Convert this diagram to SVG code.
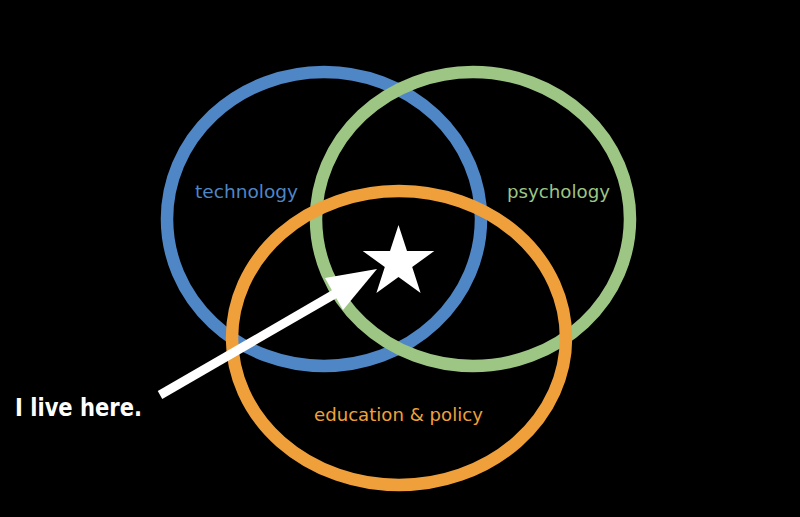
<svg xmlns="http://www.w3.org/2000/svg" width="800" height="517" viewBox="0 0 800 517">
<style>
.ring{fill:none;stroke-width:12.5}
.lbl{font-family:"DejaVu Sans","Noto Sans",sans-serif;font-size:18px}
</style>
<rect width="800" height="517" fill="#000"/>
<g id="technology">
<ellipse class="ring" cx="324" cy="219" rx="157" ry="147" stroke="#4F86C6"/>
<text class="lbl" x="195" y="198" fill="#4F86C6" textLength="103" lengthAdjust="spacingAndGlyphs">technology</text>
</g>
<g id="psychology">
<ellipse class="ring" cx="473" cy="219" rx="157" ry="147" stroke="#9DC584"/>
<text class="lbl" x="507" y="198" fill="#9DC584" textLength="103" lengthAdjust="spacingAndGlyphs">psychology</text>
</g>
<g id="education">
<ellipse class="ring" cx="399" cy="338" rx="167" ry="147" stroke="#F0A03A"/>
<text class="lbl" x="314" y="421" fill="#F0A03A" textLength="169" lengthAdjust="spacingAndGlyphs">education &amp; policy</text>
</g>
<g id="connectors">
<line x1="160" y1="395" x2="338" y2="292" stroke="#fff" stroke-width="9"/>
<polygon points="377,269 325,278 343,310" fill="#fff"/>
</g>
<g id="star">
<polygon fill="#fff" points="398.5,225 407,250.9 434.3,251 412.2,267.1 420.6,293 398.5,277 376.4,293 384.8,267.1 362.7,251 390,250.9"/>
</g>
<g id="label">
<text x="15" y="416" fill="#fff" font-family="DejaVu Sans, sans-serif" font-weight="bold" font-size="25" textLength="127" lengthAdjust="spacingAndGlyphs">I live here.</text>
</g>
</svg>
